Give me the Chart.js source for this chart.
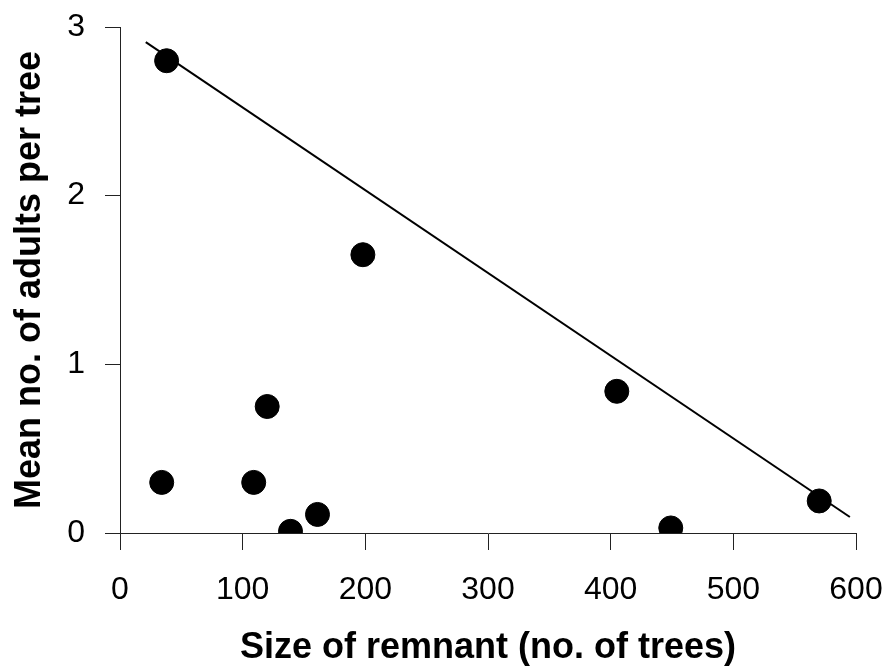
<!DOCTYPE html>
<html>
<head>
<meta charset="utf-8">
<script src="https://cdn.jsdelivr.net/npm/chart.js@4/dist/chart.umd.min.js"></script>
<style>
  body { margin: 0; background: #fff; }
  #wrap { width: 888px; height: 666px; position: relative; }
</style>
</head>
<body>
<div id="wrap"><canvas id="chartContainer"></canvas></div>
<script>
// remnant size (no. of trees) and mean adults per tree
let remnantSize = [34, 38, 109, 120, 139, 161, 198, 405, 449, 570];
let adultsPerTree = [0.30, 2.80, 0.30, 0.75, 0.01, 0.11, 1.65, 0.84, 0.03, 0.19];

// ends of the fitted line
let fitX = [21, 595];
let fitY = [2.91, 0.095];

let xTicks = [0, 100, 200, 300, 400, 500, 600];
let yTicks = [0, 1, 2, 3];

function toPoints(xs, ys) {
  let points = [];
  for (let i = 0; i < xs.length; i++) {
    points.push({ x: xs[i], y: ys[i] });
  }
  return points;
}

// keep tick labels from pushing the plot area around
function noLabelPadding(scale) {
  scale.paddingTop = 0;
  scale.paddingBottom = 0;
  scale.paddingLeft = 0;
  scale.paddingRight = 0;
}

let chart = new Chart(document.getElementById('chartContainer'), {
  type: 'scatter',
  data: {
    datasets: [{
      data: toPoints(remnantSize, adultsPerTree),
      backgroundColor: '#000',
      borderColor: '#000',
      pointRadius: 12,
      pointHoverRadius: 12
    }, {
      type: 'line',
      data: toPoints(fitX, fitY),
      borderColor: '#000',
      borderWidth: 2,
      pointRadius: 0,
      fill: false
    }]
  },
  options: {
    responsive: true,
    maintainAspectRatio: false,
    animation: false,
    layout: { padding: { left: 0, right: 32, top: 27, bottom: 0 } },
    plugins: { legend: { display: false }, tooltip: { enabled: false } },
    scales: {
      x: {
        type: 'linear',
        min: 0,
        max: 600,
        afterBuildTicks: (scale) => { scale.ticks = xTicks.map(v => ({ value: v })); },
        afterFit: (scale) => { scale.height = 133; noLabelPadding(scale); },
        border: { display: true, color: '#222', width: 1 },
        grid: { drawOnChartArea: false, drawTicks: true, tickLength: 17, color: '#222' },
        ticks: { color: '#000', font: { family: 'Liberation Sans', size: 32 }, padding: 21, maxRotation: 0 },
        title: {
          display: true,
          text: 'Size of remnant (no. of trees)',
          color: '#000',
          font: { family: 'Liberation Sans', size: 36, weight: 'bold', lineHeight: 1.0 },
          padding: { top: 0, bottom: 0 }
        }
      },
      y: {
        type: 'linear',
        min: 0,
        max: 3,
        afterBuildTicks: (scale) => { scale.ticks = yTicks.map(v => ({ value: v })); },
        afterFit: (scale) => { scale.width = 120; noLabelPadding(scale); },
        border: { display: true, color: '#222', width: 1 },
        grid: { drawOnChartArea: false, drawTicks: true, tickLength: 15, color: '#222' },
        ticks: { color: '#000', font: { family: 'Liberation Sans', size: 32 }, padding: 20 },
        title: {
          display: true,
          text: 'Mean no. of adults per tree',
          color: '#000',
          font: { family: 'Liberation Sans', size: 36, weight: 'bold' },
          padding: { top: 8, bottom: 0 }
        }
      }
    }
  }
});
</script>
</body>
</html>
